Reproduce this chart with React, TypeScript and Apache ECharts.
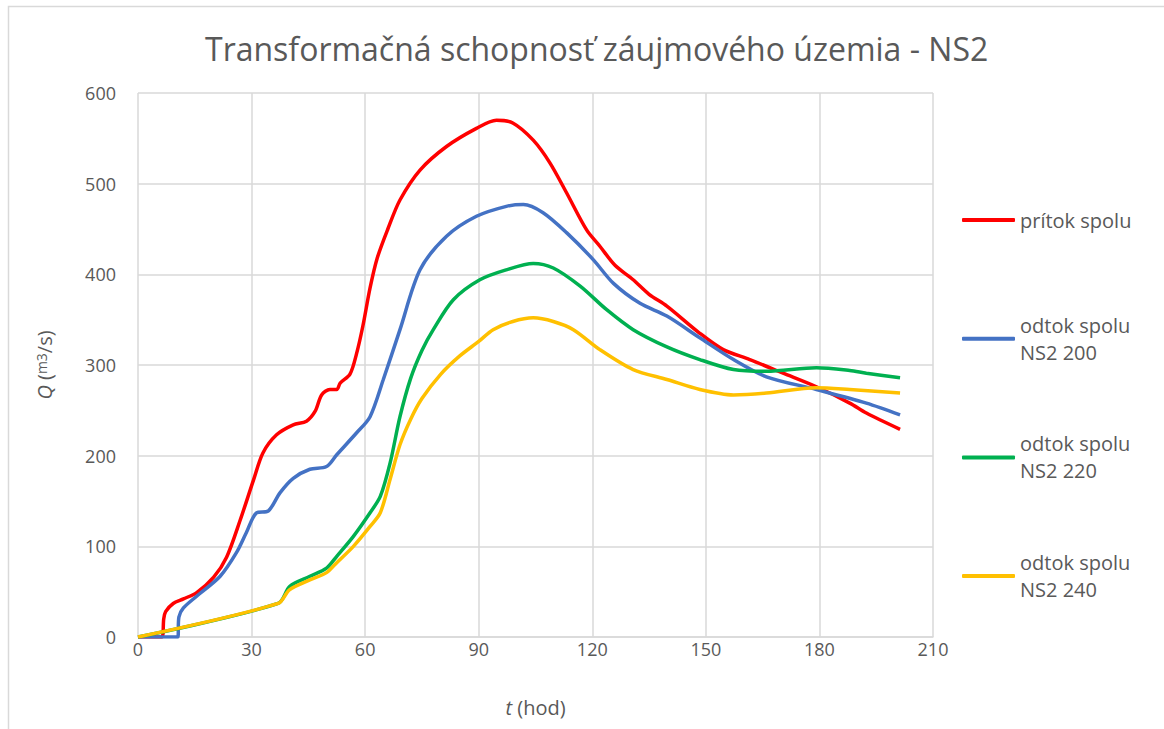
import React, { useEffect, useRef } from "react";
import * as echarts from "echarts";

const TITLE = "Transformačná schopnosť záujmového územia - NS2";
const xTicks = [0, 30, 60, 90, 120, 150, 180, 210];
const yTicks = [0, 100, 200, 300, 400, 500, 600];

const seriesNames = ["prítok spolu", "odtok spolu\nNS2 200", "odtok spolu\nNS2 220", "odtok spolu\nNS2 240"];
const seriesColors = ["#FF0000", "#4472C4", "#00B050", "#FFC000"];

const redT = [0, 6.3, 6.8, 7.3, 9.3, 12, 15.5, 20, 23.4, 27, 30.5, 33, 36.6, 41, 44.5, 46.8, 48.5, 50.7, 52.5, 53.4, 56, 57.7, 59.4, 61.3, 63.2, 66, 69.2, 74.5, 81.5, 89.4, 94.7, 99, 104.4, 108.8, 113.2, 118.5, 122, 126, 130.8, 135, 139.7, 148.4, 154.6, 161.6, 170.4, 179.2, 188, 192.4, 201.3];
const redQ = [0, 0, 20, 28, 37, 42, 49, 66, 88, 129, 173, 203, 223, 234, 238, 249, 267, 273, 273, 280, 290, 312, 343, 385, 418, 450, 482, 515, 541, 561, 570, 567, 548, 523, 490, 449, 431, 410, 394, 378, 365, 335, 317, 306, 291, 276, 258, 247, 229];

const blueT = [0, 10.5, 10.8, 12, 15.5, 21.7, 26, 28.6, 31.3, 34.4, 37.5, 41, 45.4, 49.8, 52.5, 57.7, 61.3, 64.8, 69.2, 74.5, 81.5, 89.4, 97.3, 101.8, 107, 113.2, 120.3, 125.6, 132.6, 139.7, 148.4, 157.3, 166, 179.2, 192.4, 201.3];
const blueQ = [0, 0, 22, 32, 45, 67, 93, 115, 137, 139, 159, 175, 185, 188, 201, 225, 243, 284, 339, 405, 442, 464, 475, 477, 468, 446, 416, 390, 368, 354, 330, 306, 287, 273, 258, 245];

const greenT = [0, 37, 40.1, 45.4, 49.8, 52.5, 56.9, 61.3, 64, 66.6, 69.2, 72, 75, 78, 83.3, 90.3, 97.3, 104.4, 109.7, 116.8, 123.8, 130.8, 139.7, 148.4, 157.3, 166, 179.2, 188, 192.4, 201.3];
const greenQ = [0, 37, 56, 67, 76, 89, 111, 137, 155, 192, 243, 285, 316, 339, 372, 394, 405, 412, 407, 387, 361, 339, 320, 306, 295, 293, 297, 294, 291, 286];

const yellowT = [0, 37, 40, 45.4, 49.8, 52.5, 56.9, 61.3, 64, 66.6, 69.2, 72, 75, 80, 85, 90, 93.8, 99, 104.4, 109.7, 115, 122, 130.8, 139.7, 148.4, 157.3, 166, 179.2, 188, 201.3];
const yellowQ = [0, 37, 52, 63, 71, 82, 100, 122, 137, 174, 212, 240, 263, 290, 310, 326, 339, 348, 352, 348, 339, 317, 295, 284, 273, 267, 269, 275, 273, 269];

const allT = [redT, blueT, greenT, yellowT];
const allQ = [redQ, blueQ, greenQ, yellowQ];

const FONT = "'Open Sans', sans-serif";
const GRAY = "#595959";
const LH = 27;

export default function App() {
  const ref = useRef<HTMLDivElement>(null);
  useEffect(() => {
    if (!ref.current) return;
    const chart = echarts.init(ref.current, undefined, { renderer: "svg" });
    const series = seriesNames.map((name, i) => ({
      name,
      type: "line",
      data: allT[i].map((t, j) => [t, allQ[i][j]]),
      showSymbol: false,
      symbol: "none",
      smooth: 0.3,
      lineStyle: { color: seriesColors[i], width: 3.5 },
      itemStyle: { color: seriesColors[i] },
      z: 2 + i,
    }));
    chart.setOption({
      animation: false,
      backgroundColor: "#ffffff",
      textStyle: { fontFamily: FONT },
      title: {
        text: TITLE,
        left: 200,
        top: 27,
        textStyle: { fontFamily: FONT, fontSize: 32, fontWeight: "normal", color: GRAY },
      },
      graphic: [
        {
          type: "rect",
          shape: { x: 8.5, y: 6.5, width: 1300, height: 900 },
          style: { fill: "none", stroke: "#d9d9d9", lineWidth: 1.5 },
          silent: true,
          z: -10,
        },
      ],
      legend: {
        orient: "vertical",
        left: 962,
        top: 220 - (LH * 3) / 2,
        padding: 0,
        itemGap: 118.7 - LH * 3,
        itemWidth: 53,
        itemHeight: 4,
        icon: "roundRect",
        textStyle: { fontFamily: FONT, fontSize: 20, color: GRAY, lineHeight: LH },
        data: seriesNames.map((name, i) => ({
          name,
          textStyle: { padding: i === 0 ? [LH, 0, LH, 0] : [LH, 0, 0, 0] },
        })),
      },
      grid: { left: 138, right: 231, top: 93, bottom: 92, containLabel: false },
      xAxis: {
        type: "value",
        min: 0,
        max: 210,
        interval: 30,
        name: "{i|t} (hod)",
        nameLocation: "middle",
        nameGap: 60,
        nameTextStyle: {
          fontFamily: FONT,
          fontSize: 20,
          color: GRAY,
          rich: { i: { fontStyle: "italic", fontFamily: FONT, fontSize: 20, color: GRAY } },
        },
        axisLine: { show: true, lineStyle: { color: "#d9d9d9", width: 1.5 } },
        axisTick: { show: false },
        axisLabel: { color: GRAY, fontSize: 18, fontFamily: FONT, margin: 3, formatter: (v: number) => (xTicks.includes(v) ? String(v) : "") },
        splitLine: { show: true, lineStyle: { color: "#d9d9d9", width: 1.5 } },
      },
      yAxis: {
        type: "value",
        min: 0,
        max: 600,
        interval: 100,
        name: "{i|Q} ({s|m3}/s)",
        nameLocation: "middle",
        nameGap: 84,
        nameTextStyle: {
          fontFamily: FONT,
          fontSize: 20,
          color: GRAY,
          rich: {
            i: { fontStyle: "italic", fontFamily: FONT, fontSize: 20, color: GRAY },
            s: { fontFamily: FONT, fontSize: 14, color: GRAY, verticalAlign: "top" },
          },
        },
        axisLine: { show: false },
        axisTick: { show: false },
        axisLabel: { color: GRAY, fontSize: 18, fontFamily: FONT, margin: 22, formatter: (v: number) => (yTicks.includes(v) ? String(v) : "") },
        splitLine: { show: true, lineStyle: { color: "#d9d9d9", width: 1.5 } },
      },
      series,
    });
    return () => chart.dispose();
  }, []);
  return (
    <div
      ref={ref}
      style={{ position: "fixed", left: 0, top: 0, width: 1164, height: 729, background: "#fff" }}
    />
  );
}
